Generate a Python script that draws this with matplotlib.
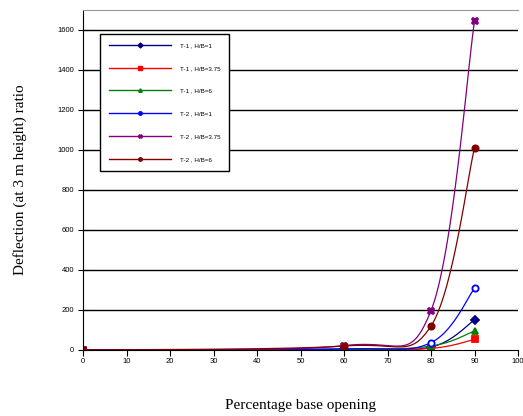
import numpy as np
import matplotlib.pyplot as plt

# data
opening = [0, 60, 80, 90]
t1_hb1 = [0, 5, 15, 150]
t1_hb375 = [0, 2, 8, 53]
t1_hb6 = [0, 3, 20, 95]
t2_hb1 = [0, 5, 37, 308]
t2_hb375 = [0, 22, 197, 1643]
t2_hb6 = [0, 20, 120, 1010]

labels = ['T-1 , H/B=1', 'T-1 , H/B=3.75', 'T-1 , H/B=6',
          'T-2 , H/B=1', 'T-2 , H/B=3.75', 'T-2 , H/B=6']
colors = ['#000080', '#ff0000', '#008000', '#0000ff', '#800080', '#800000']
markers = ['D', 's', '^', 'o', 'X', 'o']
series = [t1_hb1, t1_hb375, t1_hb6, t2_hb1, t2_hb375, t2_hb6]


def smooth(x, y, n=40):
    # Excel style smoothed line (Catmull-Rom bezier)
    x = np.asarray(x, float)
    y = np.asarray(y, float)
    px = np.concatenate([[x[0]], x, [x[-1]]])
    py = np.concatenate([[y[0]], y, [y[-1]]])
    xs, ys = [], []
    t = np.linspace(0, 1, n)
    for i in range(1, len(px) - 2):
        p0 = np.array([px[i], py[i]])
        p3 = np.array([px[i + 1], py[i + 1]])
        c1 = p0 + (np.array([px[i + 1], py[i + 1]]) - np.array([px[i - 1], py[i - 1]])) / 6
        c2 = p3 - (np.array([px[i + 2], py[i + 2]]) - np.array([px[i], py[i]])) / 6
        b = ((1 - t) ** 3)[:, None] * p0 + (3 * (1 - t) ** 2 * t)[:, None] * c1 \
            + (3 * (1 - t) * t ** 2)[:, None] * c2 + (t ** 3)[:, None] * p3
        xs.extend(b[:, 0])
        ys.extend(b[:, 1])
    return xs, ys


fig = plt.figure(figsize=(5.23, 4.16), dpi=100)
ax = fig.add_axes([83 / 523, 66 / 416, 435 / 523, 340 / 416])

for y, c, m, lab in zip(series, colors, markers, labels):
    sx, sy = smooth(opening, y)
    ax.plot(sx, sy, color=c, lw=0.9)
    face = 'white' if lab == 'T-2 , H/B=1' else c
    ax.plot(opening, y, ls='none', marker=m, ms=4.5, color=c, mfc=face, mew=1.3)
    ax.plot([], [], color=c, lw=1, marker=m, ms=2.5, mfc=c, label=lab)

ax.set_xlim(0, 100)
ax.set_ylim(0, 1700)
ax.set_xticks(range(0, 101, 10))
ax.set_yticks(range(0, 1601, 200))
for v in range(200, 1601, 200):
    ax.axhline(v, color='black', lw=1, zorder=0)
ax.tick_params(axis='x', direction='out', length=4, labelsize=5.5, pad=2)
ax.tick_params(axis='y', direction='inout', length=7, labelsize=5.5, pad=3)
for lab in ax.get_xticklabels() + ax.get_yticklabels():
    lab.set_family('Liberation Sans')
ax.spines['right'].set_visible(False)
ax.spines['top'].set_color('#999999')

ax.set_ylabel('Deflection (at 3 m height) ratio', family='Liberation Serif', fontsize=11, labelpad=22)
ax.set_xlabel('Percentage base opening', family='Liberation Serif', fontsize=11, labelpad=24)

leg = ax.legend(loc='upper left', bbox_to_anchor=(0.039, 0.93),
                prop={'family': 'Liberation Sans', 'size': 4.5},
                handlelength=10, handletextpad=1.4, labelspacing=2.8, borderpad=1.4,
                borderaxespad=0, fancybox=False, edgecolor='black', framealpha=1)
leg.get_frame().set_linewidth(1)

fig.savefig('out.png', dpi=100)
